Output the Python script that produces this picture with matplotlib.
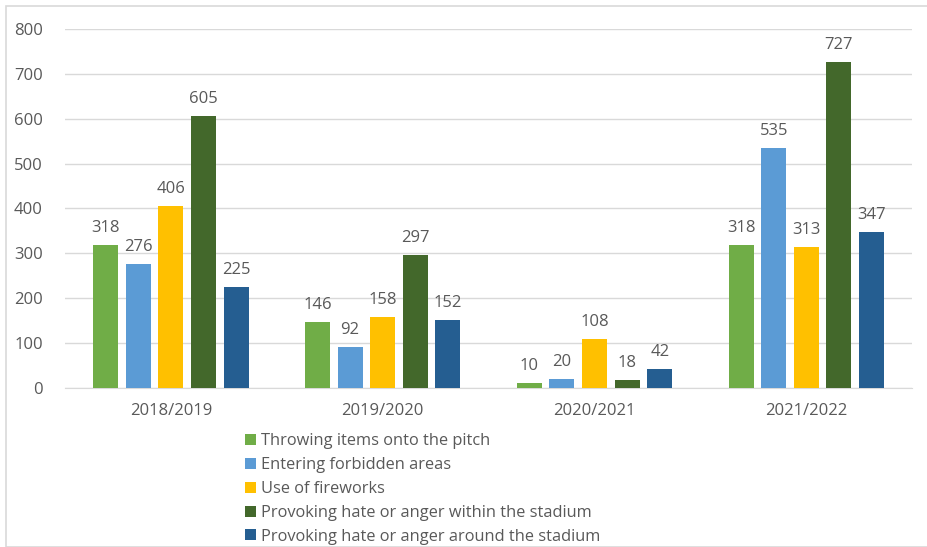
import matplotlib.pyplot as plt
import numpy as np
from matplotlib.patches import Rectangle

seasons = ["2018/2019", "2019/2020", "2020/2021", "2021/2022"]
labels = ["Throwing items onto the pitch", "Entering forbidden areas", "Use of fireworks",
          "Provoking hate or anger within the stadium", "Provoking hate or anger around the stadium"]
throwing = [318, 146, 10, 318]
forbidden = [276, 92, 20, 535]
fireworks = [406, 158, 108, 313]
hate_within = [605, 297, 18, 727]
hate_around = [225, 152, 42, 347]
series = [throwing, forbidden, fireworks, hate_within, hate_around]
colors = ["#70AD47", "#5B9BD5", "#FFC000", "#43682B", "#255E91"]

plt.rcParams['font.family'] = ['Open Sans', 'DejaVu Sans']
txt = "#595959"

fig = plt.figure(figsize=(9.28, 5.47), dpi=100)
ax = fig.add_axes([0.070, 0.291, 0.913, 0.656])
fig.patches.append(Rectangle((6/928, 0), 1.0, 1 - 6/547, transform=fig.transFigure,
                             fill=False, edgecolor="#d9d9d9", lw=1.2))

x = np.arange(len(seasons))
w = 0.118
step = 0.154
for i, (vals, c, lab) in enumerate(zip(series, colors, labels)):
    pos = x + (i - 2) * step
    bars = ax.bar(pos, vals, w, color=c, label=lab, zorder=3)
    for b, v in zip(bars, vals):
        ax.text(b.get_x() + b.get_width() / 2, v + 20, str(v), ha="center", va="bottom",
                fontsize=12, color=txt)

ax.set_xlim(-0.5, 3.5)
ax.set_ylim(0, 800)
ax.set_yticks(range(0, 801, 100))
ax.set_xticks(x)
ax.set_xticklabels(seasons)
ax.grid(axis="y", color="#d9d9d9", lw=1, zorder=0)
for s in ["top", "right", "left"]:
    ax.spines[s].set_visible(False)
ax.spines["bottom"].set_color("#d9d9d9")
ax.tick_params(axis="both", length=0, labelsize=12, colors=txt, pad=11)
ax.tick_params(axis="y", pad=16)

fig.legend(loc="upper left", bbox_to_anchor=(237/928, 1 - 425/547), frameon=False,
           fontsize=11.8, handlelength=0.65, handleheight=0.65, handletextpad=0.3,
           labelspacing=0.48, labelcolor=txt, borderpad=0)

fig.savefig("out.png", dpi=100)
